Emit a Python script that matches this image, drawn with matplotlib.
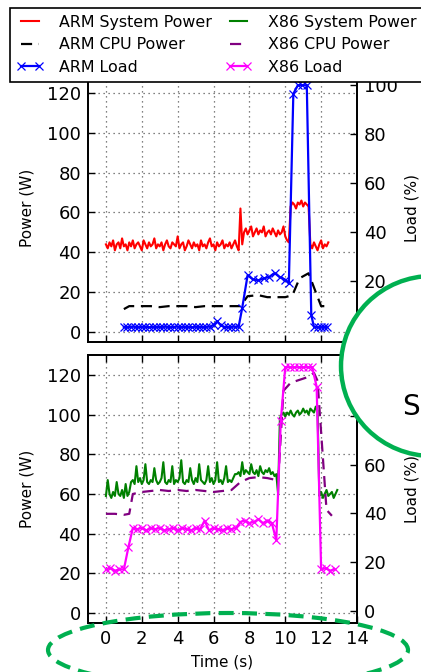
import numpy as np
import matplotlib
matplotlib.use('Agg')
import matplotlib.pyplot as plt
from matplotlib.patches import Ellipse

# ---- ARM (top panel) ----
arm_sys_t = np.arange(125) * 0.1
arm_sys = [44, 42, 45, 43, 46, 41, 44, 45, 42, 47, 43, 44, 41, 45, 43, 46, 42, 44, 45, 43,
           41, 46, 44, 42, 45, 43, 44, 47, 42, 44, 43, 45, 41, 44, 46, 43, 42, 45, 44, 43,
           48, 42, 44, 45, 41, 43, 46, 44, 42, 45, 43, 44, 41, 46, 43, 44, 42, 45, 47, 43,
           44, 41, 45, 43, 44, 46, 42, 44, 43, 45, 42, 44, 46, 43, 41,
           62, 44,
           50, 52, 49, 51, 53, 48, 50, 52, 49, 51, 50, 53, 48, 50, 51, 49, 52, 50, 48, 51,
           49, 50, 53, 48, 46,
           45,
           63, 65, 64, 62, 65, 64, 66, 63, 65, 64, 63,
           44, 42, 45, 43, 41, 44, 46, 42, 44, 43, 45]

arm_cpu_t = [1.0, 1.3, 1.5, 2.0, 2.5, 3.0, 3.5, 4.0, 4.5, 5.0, 5.5, 6.0, 6.5, 7.0, 7.5,
             7.9, 8.5, 9.0, 9.5, 10.0, 10.4, 10.8, 11.3, 11.7, 12.0, 12.3]
arm_cpu = [11.5, 13, 13, 13, 13, 12.5, 13, 13, 13, 12.5, 13, 13, 13, 13, 13,
           18, 18.5, 17.5, 17.5, 17.5, 18.5, 27, 29.5, 20, 13, 13]

arm_load_t = list(np.round(np.arange(1.0, 7.41, 0.2), 2)) + \
    [7.6, 7.9, 8.2, 8.5, 8.8, 9.1, 9.4, 9.7, 10.0, 10.2, 10.45, 10.7, 10.95, 11.2,
     11.45, 11.6, 11.8, 12.0, 12.15, 12.3]
arm_load = [1.2, 1.0, 1.3, 1.2, 1.1, 1.2, 1.3, 1.0, 1.2, 1.2, 1.1, 1.3, 1.2, 1.0, 1.2,
            1.3, 1.1, 1.2, 1.2, 1.0, 1.3, 1.2, 1.1, 1.2, 1.3, 2.0, 3.5, 1.8, 1.2, 1.1,
            1.2, 1.3, 1.2,
            9, 22.3, 20.6, 20.2, 21.0, 21.6, 23.2, 21.5, 20.5, 19, 96.5, 100, 100, 100,
            6, 1.2, 1.0, 1.2, 1.1, 1.2]

# ---- X86 (bottom panel) ----
x86_sys_t = np.arange(130) * 0.1
x86_sys = [59, 67, 60, 58, 61, 59, 66, 60, 59, 62, 58, 65, 59, 61,
           66, 67, 65, 74, 66, 68, 65, 67, 75, 66, 65, 67, 66, 73, 67, 65, 66, 68, 76, 66,
           65, 67, 66, 74, 65, 67, 66, 68, 77, 66, 65, 67, 66, 73, 67, 65, 68, 66, 75, 67,
           66, 65, 67, 74, 66, 68, 65, 67, 76, 66, 67, 65, 68, 74, 66, 67, 66, 68, 70,
           70, 71, 69, 76, 70, 72, 71, 70, 75, 71, 70, 72, 69, 74, 71, 70, 72, 71, 73, 70,
           71, 69, 70,
           60,
           98, 100, 101, 99, 101, 100, 102, 100, 99, 101, 102, 100, 101, 103, 101, 102,
           100, 103, 102, 101, 104, 102,
           59, 61, 58, 60, 62, 59, 60, 61, 58, 60, 62]

x86_cpu_t = [0.0, 0.5, 1.0, 1.3, 1.5, 2.0, 2.5, 3.0, 3.5, 4.0, 4.5, 5.0, 5.5, 6.0, 6.5,
             7.0, 7.5, 8.0, 8.5, 9.0, 9.5, 9.6, 9.9, 10.3, 10.8, 11.3, 11.6, 11.8, 12.3, 12.6]
x86_cpu = [50, 50, 49.5, 50, 60, 61, 61.5, 62, 61.5, 62, 61.5, 62, 61.5, 61, 61.5,
           62, 66, 68, 68.5, 68, 67, 66, 112, 116, 117.5, 119, 121, 117, 52, 49]

x86_load_t = np.arange(52) * 0.25
x86_load = [17, 17.5, 16.5, 17, 17, 26, 34, 33.5, 34, 33, 34, 33.5, 34, 33, 33.5, 34,
            33, 34, 33.5, 33, 34, 33.5, 37, 33, 34, 33.5, 33, 34, 33.5, 34,
            36.5, 37, 36, 36.5, 37.5, 36, 37, 36, 29, 78, 100, 100, 100, 100, 100, 100,
            100, 92, 17, 17.5, 16.5, 17]

power_ticks = [0, 20, 40, 60, 80, 100, 120]
load_ticks = [0, 20, 40, 60, 80, 100]
time_ticks = [0, 2, 4, 6, 8, 10, 12, 14]

fig = plt.figure(figsize=(4.21, 6.72), dpi=100)
W, H = 421.0, 672.0
ax1 = fig.add_axes([88 / W, 1 - 342 / H, 269 / W, 269 / H])
ax2 = fig.add_axes([88 / W, 1 - 623 / H, 269 / W, 268 / H])
ax1r = ax1.twinx()
ax2r = ax2.twinx()

h1, = ax1.plot(arm_sys_t, arm_sys, color='red', lw=1.5)
h2, = ax1.plot(arm_cpu_t, arm_cpu, color='black', lw=1.6, dashes=(5, 3))
h3, = ax1r.plot(arm_load_t, arm_load, color='blue', lw=1.6, marker='x', ms=6, mew=0.9)
h4, = ax2.plot(x86_sys_t, x86_sys, color='green', lw=1.5)
h5, = ax2.plot(x86_cpu_t, x86_cpu, color='purple', lw=1.6, dashes=(5, 3))
h6, = ax2r.plot(x86_load_t, x86_load, color='magenta', lw=1.6, marker='x', ms=6, mew=0.9)

for ax in (ax1, ax2):
    ax.set_xlim(-1, 14)
    ax.set_ylim(-5, 130)
    ax.set_xticks(time_ticks)
    ax.set_yticks(power_ticks)
    ax.grid(True, color='0.35', linestyle=(0, (1, 3)), lw=0.9)
    ax.tick_params(direction='in', length=5, width=1, top=True, right=False,
                   labelsize=13, pad=5)
    ax.set_ylabel('Power (W)', fontsize=11, labelpad=9)
for ax in (ax1r, ax2r):
    ax.set_ylim(-5, 105)
    ax.set_yticks(load_ticks)
    ax.tick_params(direction='in', length=5, width=1, labelsize=13, pad=5)
    ax.set_ylabel('Load (%)', fontsize=11, labelpad=5)
for ax in (ax1, ax2, ax1r, ax2r):
    for s in ax.spines.values():
        s.set_linewidth(1.3)
ax1.tick_params(labelbottom=False)
ax2.set_xlabel('Time (s)', fontsize=11, labelpad=5)

leg = fig.legend([h1, h2, h3, h4, h5, h6],
                 ['ARM System Power', 'ARM CPU Power', 'ARM Load',
                  'X86 System Power', 'X86 CPU Power', 'X86 Load'],
                 loc='upper left', bbox_to_anchor=(10 / W, 1 - 8 / H), ncol=2,
                 fontsize=11.4, fancybox=False, framealpha=1, edgecolor='black',
                 borderaxespad=0, handlelength=1.7, handletextpad=1.0,
                 columnspacing=0.8, labelspacing=0.48, borderpad=0.42, numpoints=2)
leg.get_frame().set_linewidth(1.2)

# green highlight ellipses
fig.add_artist(Ellipse((432 / W, 1 - 366 / H), 182 / W, 180 / H, transform=fig.transFigure,
                       facecolor='white', edgecolor='#00b050', lw=3.2, zorder=10))
fig.add_artist(Ellipse((228 / W, 1 - 650 / H), 360 / W, 74 / H, transform=fig.transFigure,
                       facecolor='none', edgecolor='#00b050', lw=3, linestyle=(0, (3.6, 2)),
                       zorder=10))
fig.text(402 / W, 1 - 415 / H, 'S', fontsize=20, ha='left', va='baseline', zorder=11)

fig.savefig('out.png', dpi=100)
